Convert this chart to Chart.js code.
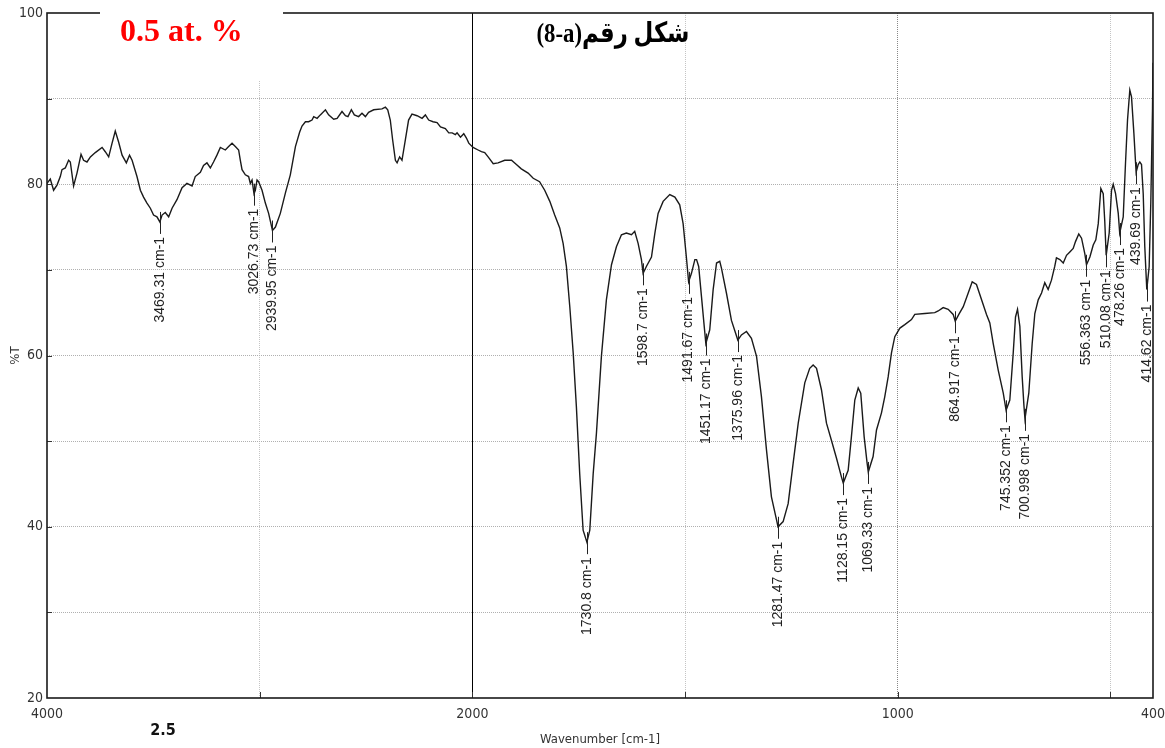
<!DOCTYPE html>
<html>
<head>
<meta charset="utf-8">
<script src="https://cdn.jsdelivr.net/npm/chart.js@4/dist/chart.umd.min.js"></script>
<style>
  html, body { margin: 0; padding: 0; background: #fff; }
  #wrap { width: 1165px; height: 748px; }
</style>
</head>
<body>
<div id="wrap"><canvas id="ftir" width="1165" height="748"></canvas></div>
<script>
// FTIR spectrum: wavenumber (cm-1) and transmittance (%T)
const WAVENUMBER = [
  4000, 3984.5, 3969, 3953, 3937.5, 3929.5, 3914, 3898.4, 3890.4, 3875,
  3859, 3840, 3828, 3812, 3796, 3773, 3741, 3726, 3710, 3694,
  3679, 3663, 3647, 3627, 3612, 3600, 3577, 3561, 3546, 3530,
  3514, 3499, 3483, 3469.31, 3459, 3444, 3428, 3412, 3389, 3365,
  3342, 3318, 3303, 3279, 3264, 3248, 3232, 3217, 3201, 3185,
  3161.5, 3146, 3130, 3114.5, 3099, 3091, 3083, 3067.5, 3052, 3044,
  3036, 3026.73, 3020.5, 3012.5, 3005, 2989, 2973.4, 2958, 2939.95, 2926,
  2903, 2879, 2856, 2832, 2812, 2801, 2785, 2770, 2754, 2746,
  2730, 2715, 2691, 2676, 2652, 2636, 2613, 2597, 2585, 2569,
  2555, 2535, 2519, 2503, 2488, 2464, 2425, 2409, 2398, 2386,
  2375, 2362, 2354, 2342, 2331, 2315, 2300, 2284, 2260, 2236.5,
  2221, 2205.5, 2185, 2166, 2150, 2127, 2111, 2095, 2080, 2072,
  2056, 2040.5, 2028, 2017, 1998.4, 1986.6, 1978.8, 1971, 1963, 1951,
  1939.6, 1924, 1908, 1896.5, 1885, 1869, 1857, 1842, 1830, 1818,
  1806.5, 1794.7, 1786.7, 1779, 1771, 1763, 1755.5, 1747.7, 1739.7, 1730.8,
  1724, 1716, 1708.4, 1696.7, 1685, 1673, 1661.4, 1649.6, 1638, 1626,
  1618.4, 1610.4, 1602.6, 1598.7, 1591, 1579, 1571, 1563.4, 1551.6, 1536,
  1524, 1512.6, 1504.6, 1497, 1491.67, 1485, 1477, 1473, 1468, 1461.5,
  1455, 1451.17, 1442, 1434, 1426, 1418.5, 1414.5, 1402.8, 1391, 1375.96,
  1367.5, 1355.7, 1344, 1332, 1320.5, 1308.7, 1297, 1285, 1281.47, 1269.5,
  1257.7, 1246, 1234, 1218.6, 1207, 1199, 1191, 1179.4, 1167.6, 1156,
  1144, 1132.3, 1128.15, 1116.6, 1109, 1101, 1093, 1087, 1079, 1072,
  1069.33, 1058, 1050, 1038.3, 1030.5, 1022.6, 1014.8, 1007, 995, 983.5,
  967.8, 960, 936.5, 913, 905, 893.3, 881.5, 869.8, 864.917, 856.5,
  846, 834.4, 825, 815, 803, 791.4, 783.6, 775.6, 763.9, 752,
  745.352, 736.6, 728.6, 723.2, 718.5, 713, 707.5, 703.5, 700.998, 692,
  684, 677.8, 669.8, 662, 654.4, 646.5, 638.7, 631, 627, 619,
  611, 603.3, 595.5, 587.6, 582.2, 574.5, 568, 560.3, 556.363, 548.4,
  540.5, 534.4, 528.7, 522.6, 517, 513.5, 510.08, 503, 497.5, 493.5,
  488, 481.7, 478.26, 470, 464.6, 459.9, 454.5, 450.5, 445, 439.69,
  434.8, 431, 427, 423, 419.3, 414.62, 409, 405.2, 401.2, 400
];
const TRANSMITTANCE = [
  80.1, 80.6, 79.3, 79.9, 80.9, 81.7, 81.9, 82.8, 82.6, 79.8,
  81.3, 83.5, 82.8, 82.6, 83.2, 83.7, 84.3, 83.8, 83.2, 84.8,
  86.2, 84.9, 83.4, 82.5, 83.4, 82.8, 80.9, 79.3, 78.5, 77.8,
  77.2, 76.4, 76.2, 75.6, 76.4, 76.7, 76.2, 77.2, 78.2, 79.6,
  80.1, 79.8, 80.9, 81.4, 82.2, 82.5, 81.9, 82.6, 83.4, 84.3,
  84.0, 84.4, 84.8, 84.4, 84.0, 82.8, 81.7, 81.1, 80.9, 80.1,
  80.5, 78.9, 79.3, 80.5, 80.3, 79.3, 77.8, 76.6, 74.6, 75.0,
  76.6, 79.0, 81.1, 84.4, 86.1, 86.8, 87.3, 87.3, 87.5, 87.9,
  87.7, 88.1, 88.7, 88.1, 87.6, 87.7, 88.5, 88.0, 87.9, 88.7,
  88.1, 87.9, 88.3, 87.9, 88.4, 88.7, 88.8, 89.0, 88.7, 87.5,
  85.2, 82.8, 82.5, 83.2, 82.8, 85.2, 87.5, 88.2, 88.0, 87.7,
  88.1, 87.5, 87.3, 87.2, 86.7, 86.5, 86.0, 86.0, 85.8, 86.0,
  85.5, 85.9, 85.4, 84.8, 84.3, 84.0, 83.8, 83.7, 83.2, 82.4,
  82.5, 82.8, 82.8, 82.3, 81.8, 81.3, 80.7, 80.3, 79.3, 78.0,
  76.4, 74.9, 73.1, 70.4, 65.7, 60.3, 54.0, 46.2, 39.6, 38.2,
  39.6, 46.2, 50.9, 59.9, 66.5, 70.6, 72.7, 74.1, 74.3, 74.1,
  74.5, 73.1, 71.2, 69.6, 70.4, 71.5, 74.3, 76.6, 78.0, 78.8,
  78.5, 77.6, 75.4, 71.5, 68.6, 69.6, 71.2, 71.2, 70.4, 66.9,
  63.4, 61.4, 63.0, 67.7, 70.8, 71.0, 70.2, 67.3, 64.1, 61.8,
  62.4, 62.8, 62.0, 59.9, 55.2, 49.0, 43.5, 40.8, 40.0, 40.6,
  42.7, 47.4, 52.1, 56.8, 58.5, 58.9, 58.5, 56.0, 52.1, 50.1,
  48.0, 45.8, 45.1, 46.6, 50.5, 54.8, 56.2, 55.6, 50.5, 47.4,
  46.4, 48.2, 51.3, 53.3, 55.2, 57.5, 60.3, 62.2, 63.2, 63.6,
  64.2, 64.8, 64.9, 65.0, 65.2, 65.6, 65.4, 64.8, 64.0, 64.8,
  65.7, 67.3, 68.6, 68.3, 66.5, 64.8, 63.8, 61.4, 58.3, 55.6,
  53.6, 54.8, 60.3, 64.5, 65.4, 63.4, 57.5, 54.2, 52.6, 55.6,
  61.4, 64.9, 66.5, 67.3, 68.5, 67.7, 68.8, 70.4, 71.4, 71.2,
  70.8, 71.7, 72.1, 72.5, 73.3, 74.2, 73.7, 71.9, 70.6, 71.5,
  72.9, 73.5, 75.4, 79.5, 78.9, 75.8, 71.7, 74.3, 79.3, 80.0,
  78.9, 76.6, 74.3, 76.2, 82.5, 87.5, 91.0, 90.2, 86.0, 81.4,
  82.3, 82.6, 82.3, 78.9, 72.7, 67.7, 70.4, 77.8, 88.7, 94.2
];

// Annotated absorption bands (cm-1)
const PEAK_WAVENUMBERS = [
  3469.31, 3026.73, 2939.95, 1730.8, 1598.7, 1491.67, 1451.17, 1375.96,
  1281.47, 1128.15, 1069.33, 864.917, 745.352, 700.998, 556.363, 510.08,
  478.26, 439.69, 414.62
];

// Axis ticks
const X_TICKS = [4000, 3000, 2000, 1500, 1000, 500, 400];
const X_LABELED = [4000, 2000, 1000, 400];
const Y_LABELED = [20, 40, 60, 80, 100];

const FIGURE_TITLE = 'شكل رقم\u2066(8-a)\u2069';
const SAMPLE_TAG = '0.5 at. %';
const SIDE_NOTE = '2.5';

// Above 2000 cm-1 the axis runs at half density
const AXIS_BREAK = 2000;
const HIGH_RANGE_FACTOR = 0.5;

const NARROW = '"Liberation Sans Narrow", "DejaVu Sans Condensed", "Liberation Sans", sans-serif';

class WavenumberScale extends Chart.LinearScale {
  toAxis(v) { return v <= AXIS_BREAK ? v : AXIS_BREAK + (v - AXIS_BREAK) * HIGH_RANGE_FACTOR; }
  fromAxis(u) { return u <= AXIS_BREAK ? u : AXIS_BREAK + (u - AXIS_BREAK) / HIGH_RANGE_FACTOR; }
  getPixelForValue(value) {
    const lo = this.toAxis(this.min), hi = this.toAxis(this.max);
    return this.getPixelForDecimal((this.toAxis(value) - lo) / (hi - lo));
  }
  getValueForPixel(pixel) {
    const lo = this.toAxis(this.min), hi = this.toAxis(this.max);
    return this.fromAxis(lo + this.getDecimalForPixel(pixel) * (hi - lo));
  }
  buildTicks() {
    this.start = this.max;
    this.end = this.min;
    return X_TICKS.map(v => ({ value: v }));
  }
}
WavenumberScale.id = 'wavenumber';
WavenumberScale.defaults = Chart.LinearScale.defaults;
Chart.register(WavenumberScale);

const decor = {
  id: 'spectrumDecor',
  beforeDatasetsDraw(chart) {
    const { ctx, chartArea: a, scales: { x, y } } = chart;
    ctx.save();
    ctx.strokeStyle = '#333';
    ctx.lineWidth = 1;
    ctx.beginPath();
    X_TICKS.forEach(v => {
      if (v === 4000 || v === 400) return;
      const px = Math.round(x.getPixelForValue(v)) + 0.5;
      ctx.moveTo(px, a.bottom);
      ctx.lineTo(px, a.bottom - 6);
    });
    for (let v = 30; v < 100; v += 10) {
      const py = Math.round(y.getPixelForValue(v)) + 0.5;
      ctx.moveTo(a.left, py);
      ctx.lineTo(a.left + 5, py);
    }
    ctx.stroke();
    ctx.strokeStyle = '#1a1a1a';
    ctx.lineWidth = 1.6;
    ctx.strokeRect(a.left, a.top, a.right - a.left, a.bottom - a.top);
    // white panel behind the sample tag
    ctx.fillStyle = '#fff';
    ctx.fillRect(100, 0, 183, 80);
    ctx.restore();
  },
  afterDatasetsDraw(chart) {
    const { ctx, scales: { x, y } } = chart;
    ctx.save();
    ctx.font = '14px "Liberation Sans", Arial, sans-serif';
    ctx.fillStyle = '#222';
    ctx.strokeStyle = '#222';
    ctx.lineWidth = 1;
    PEAK_WAVENUMBERS.forEach(wn => {
      const i = WAVENUMBER.indexOf(wn);
      const px = x.getPixelForValue(wn);
      const py = y.getPixelForValue(TRANSMITTANCE[i]);
      const lx = Math.round(px) + 0.5;
      ctx.beginPath();
      ctx.moveTo(lx, py - 10);
      ctx.lineTo(lx, py + 12);
      ctx.stroke();
      ctx.save();
      ctx.translate(px, py + 15);
      ctx.rotate(-Math.PI / 2);
      ctx.textAlign = 'right';
      ctx.textBaseline = 'middle';
      ctx.fillText(wn + ' cm-1', 0, 0);
      ctx.restore();
    });

    ctx.fillStyle = '#ff0000';
    ctx.font = 'bold 32px "Liberation Serif", "Times New Roman", serif';
    ctx.textAlign = 'left';
    ctx.textBaseline = 'alphabetic';
    ctx.fillText(SAMPLE_TAG, 120, 41);

    ctx.fillStyle = '#000';
    ctx.font = 'bold 28px "Liberation Serif", "DejaVu Sans", serif';
    ctx.direction = 'rtl';
    ctx.textAlign = 'center';
    ctx.fillText(FIGURE_TITLE, 613, 42, 153);
    ctx.direction = 'ltr';

    ctx.fillStyle = '#111';
    ctx.font = 'bold 16px ' + NARROW;
    ctx.textAlign = 'center';
    ctx.textBaseline = 'middle';
    ctx.fillText(SIDE_NOTE, 163, 731);
    ctx.restore();
  }
};

new Chart(document.getElementById('ftir'), {
  type: 'line',
  data: {
    datasets: [{
      data: WAVENUMBER.map((w, i) => ({ x: w, y: TRANSMITTANCE[i] })),
      borderColor: '#1a1a1a',
      borderWidth: 1.4,
      pointRadius: 0,
      tension: 0,
      fill: false
    }]
  },
  options: {
    responsive: false,
    animation: false,
    layout: { padding: { top: 13, right: 12, left: 0, bottom: 0 } },
    plugins: { legend: { display: false }, tooltip: { enabled: false } },
    scales: {
      x: {
        type: 'wavenumber',
        position: 'bottom',
        min: 400,
        max: 4000,
        reverse: true,
        afterFit(s) { s.height = 50; s.paddingLeft = 0; s.paddingRight = 0; },
        ticks: {
          autoSkip: false,
          maxRotation: 0,
          padding: 8,
          color: '#333',
          font: { family: NARROW, size: 14 },
          callback: v => X_LABELED.includes(v) ? String(v) : ''
        },
        grid: {
          drawTicks: false,
          lineWidth: 1,
          color: c => {
            const v = c.tick && c.tick.value;
            if (v === 4000 || v === 400) return 'rgba(0,0,0,0)';
            if (v === AXIS_BREAK) return '#000';
            if (v === 1000) return '#888';
            return '#c4c4c4';
          }
        },
        border: {
          display: false,
          dash: c => (c.tick && c.tick.value === AXIS_BREAK) ? [] : [1, 1]
        },
        title: {
          display: true,
          text: 'Wavenumber [cm-1]',
          color: '#333',
          font: { family: NARROW, size: 13 },
          padding: { top: 0, bottom: 1 }
        }
      },
      y: {
        type: 'linear',
        min: 20,
        max: 100,
        afterFit(s) { s.width = 47; s.paddingTop = 0; s.paddingBottom = 0; },
        ticks: {
          stepSize: 10,
          padding: 4,
          color: '#333',
          font: { family: NARROW, size: 14 },
          callback: v => Y_LABELED.includes(v) ? String(v) : ''
        },
        grid: {
          drawTicks: false,
          lineWidth: 1,
          color: c => {
            const v = c.tick && c.tick.value;
            return (v === 20 || v === 100) ? 'rgba(0,0,0,0)' : '#b0b0b0';
          }
        },
        border: { display: false, dash: [1, 1] },
        title: {
          display: true,
          text: '%T',
          color: '#333',
          font: { family: NARROW, size: 13 },
          padding: { top: 8, bottom: 0 }
        }
      }
    }
  },
  plugins: [decor]
});
</script>
</body>
</html>
